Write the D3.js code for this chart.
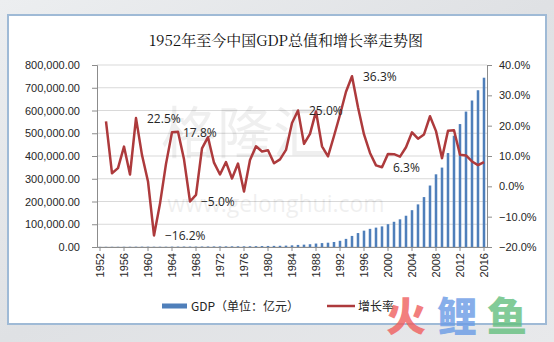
<html>
<head>
<meta charset="utf-8">
<title>1952年至今中国GDP总值和增长率走势图</title>
<style>
body { margin: 0; background: #e3e5e8; }
svg { display: block; font-family: "Open Sans", "Noto Sans CJK SC", sans-serif; }
.grid line { stroke: #d9d9d9; stroke-width: 1px; }
.axis path, .axis line { stroke: #8c8c8c; }
.axis text { fill: #262626; font-size: 11px; }
.gdp { fill: #4f7fba; }
.rate { fill: none; stroke: #ad3a3c; stroke-width: 2.5px; stroke-linejoin: round; }
.lbl { font-size: 12px; fill: #262626; }
</style>
</head>
<body>
<script src="https://cdn.jsdelivr.net/npm/d3@7"></script>
<script>
// years on the category axis
var years = d3.range(1952, 2017);

// GDP, 亿元
var gdp = [679.1, 824.4, 859.8, 911.6, 1030.7, 1071.4, 1312.3, 1447.5, 1470.1, 1232.3,
  1162.2, 1248.3, 1469.9, 1734.0, 1888.7, 1794.2, 1744.1, 1962.2, 2279.7, 2456.9,
  2552.4, 2756.2, 2827.7, 3039.5, 2988.6, 3250.0, 3678.7, 4100.5, 4587.6, 4935.8,
  5373.4, 6020.9, 7278.5, 9098.9, 10376.2, 12174.6, 15180.4, 17179.7, 18872.9, 22005.6,
  27194.5, 35673.2, 48637.5, 61339.9, 71813.6, 79715.0, 85195.5, 90564.4, 100280.1, 110863.1,
  121717.4, 137422.0, 161840.2, 187318.9, 219438.5, 270232.3, 319515.5, 349081.4, 413030.3, 489300.6,
  540367.4, 595244.4, 643974.0, 689052.1, 744127.2];

// growth rate (%), 1953 onward
var rateYears = d3.range(1953, 2017);
var rate = [21.4, 4.3, 6.0, 13.1, 3.9, 22.5, 10.3, 1.6, -16.2, -5.7,
  7.4, 17.8, 18.0, 8.9, -5.0, -2.8, 12.5, 16.2, 7.8, 3.9,
  8.0, 2.6, 7.5, -1.7, 8.7, 13.2, 11.5, 11.9, 7.6, 8.9,
  12.0, 20.9, 25.0, 14.0, 17.3, 24.7, 13.2, 9.9, 16.6, 23.6,
  31.2, 36.3, 26.1, 17.1, 11.0, 6.9, 6.3, 10.7, 10.6, 9.8,
  12.9, 17.8, 15.7, 17.1, 23.1, 18.2, 9.3, 18.3, 18.5, 10.4,
  10.2, 8.2, 7.0, 8.0];

// labelled points
var labelYears = [1958, 1961, 1964, 1967, 1985, 1994, 1999];

var leftTicks = d3.range(0, 800001, 100000);
var rightTicks = d3.range(-20, 41, 10);
var yearTicks = d3.range(1952, 2017, 4);

var W = 554, H = 342;
var m = {top: 65, right: 67, bottom: 95, left: 97};

var svg = d3.select("body").append("svg")
  .attr("width", W).attr("height", H);

// background
var defs = svg.append("defs");
var bg = defs.append("linearGradient").attr("id", "bg")
  .attr("x1", 0).attr("y1", 0).attr("x2", 1).attr("y2", 1);
bg.append("stop").attr("offset", 0).attr("stop-color", "#eceef0");
bg.append("stop").attr("offset", 0.5).attr("stop-color", "#dfe1e4");
bg.append("stop").attr("offset", 1).attr("stop-color", "#e8e9eb");
svg.append("rect").attr("width", W).attr("height", H).attr("fill", "url(#bg)");

// white panel
svg.append("rect")
  .attr("x", 8).attr("y", 15).attr("width", 538).attr("height", 309)
  .attr("fill", "#fff").attr("stroke", "#9fbad6").attr("stroke-width", 2);

var x = d3.scaleBand().domain(years).range([m.left, W - m.right]);
var yL = d3.scaleLinear().domain([0, 800000]).range([H - m.bottom, m.top]);
var yR = d3.scaleLinear().domain([-20, 40]).range([H - m.bottom, m.top]);
var cx = function(yr) { return x(yr) + x.bandwidth() / 2; };

// title
svg.append("text")
  .attr("x", 286).attr("y", 46)
  .attr("text-anchor", "middle")
  .style("font-family", "'Noto Serif CJK SC', 'Noto Sans CJK SC', serif")
  .style("font-size", "15px").style("fill", "#111")
  .text("1952年至今中国GDP总值和增长率走势图");

// gridlines
svg.append("g").attr("class", "grid")
  .selectAll("line").data(leftTicks).join("line")
  .attr("x1", m.left).attr("x2", W - m.right)
  .attr("y1", function(d) { return yL(d); })
  .attr("y2", function(d) { return yL(d); });

// watermark
svg.append("text")
  .attr("x", 245).attr("y", 153).attr("text-anchor", "middle")
  .style("font-family", "'Noto Sans CJK SC'").style("font-size", "56px")
  .style("fill", "#000").style("opacity", 0.06)
  .text("格隆汇");
svg.append("text")
  .attr("x", 276).attr("y", 212).attr("text-anchor", "middle")
  .style("font-family", "'Open Sans'").style("font-size", "23px")
  .style("fill", "#000").style("opacity", 0.06)
  .text("www.gelonghui.com");

// GDP bars
var bw = x.bandwidth() * 0.42;
svg.append("g").selectAll("rect").data(gdp).join("rect")
  .attr("class", "gdp")
  .attr("x", function(d, i) { return cx(years[i]) - bw / 2; })
  .attr("width", bw)
  .attr("y", function(d) { return yL(d); })
  .attr("height", function(d) { return yL(0) - yL(d); });

// axes
svg.append("g").attr("class", "axis")
  .attr("transform", "translate(" + m.left + ",0)")
  .call(d3.axisLeft(yL).tickValues(leftTicks).tickSize(5).tickPadding(12)
    .tickFormat(d3.format(",.2f")));

svg.append("g").attr("class", "axis")
  .attr("transform", "translate(" + (W - m.right) + ",0)")
  .call(d3.axisRight(yR).tickValues(rightTicks).tickSize(5).tickPadding(7)
    .tickFormat(function(d) { return d3.format(".1f")(d) + "%"; }));

var xa = svg.append("g").attr("class", "axis")
  .attr("transform", "translate(0," + yL(0) + ")")
  .call(d3.axisBottom(x).tickValues(yearTicks).tickSize(4).tickSizeOuter(0));
xa.selectAll("text")
  .attr("transform", "rotate(-90)")
  .attr("x", -6).attr("y", 0).attr("dy", "0.35em")
  .style("text-anchor", "end");

// growth rate line
var line = d3.line()
  .x(function(d, i) { return cx(rateYears[i]); })
  .y(function(d) { return yR(d); });
svg.append("path").datum(rate).attr("class", "rate").attr("d", line);

// data labels
svg.append("g").selectAll("text").data(labelYears).join("text")
  .attr("class", "lbl")
  .attr("x", function(yr) { return cx(yr) + 11; })
  .attr("y", function(yr) { return yR(rate[rateYears.indexOf(yr)]); })
  .attr("dy", "0.38em")
  .text(function(yr) { return d3.format(".1f")(rate[rateYears.indexOf(yr)]) + "%"; });

// legend
var lg = svg.append("g").attr("transform", "translate(0,306)");
lg.append("rect").attr("x", 162).attr("y", -2.5).attr("width", 25).attr("height", 5)
  .attr("class", "gdp");
lg.append("text").attr("x", 191).attr("dy", "0.38em")
  .style("font-family", "'Noto Sans CJK SC'").style("font-size", "12px").style("fill", "#262626")
  .text("GDP（单位：亿元）");
lg.append("line").attr("x1", 327).attr("x2", 355)
  .attr("stroke", "#ad3a3c").attr("stroke-width", 2.5);
lg.append("text").attr("x", 358).attr("dy", "0.38em")
  .style("font-family", "'Noto Sans CJK SC'").style("font-size", "12px").style("fill", "#262626")
  .text("增长率");

// corner logo
var logo = svg.append("g").style("font-family", "'Noto Sans CJK SC'")
  .style("font-size", "40px").style("font-weight", 900).style("opacity", 0.8);
logo.append("text").attr("x", 386).attr("y", 331).style("fill", "#f0605e").text("火");
logo.append("text").attr("x", 437).attr("y", 331).style("fill", "#6a9be6").text("鲤");
logo.append("text").attr("x", 487).attr("y", 331).style("fill", "#64bf7f").text("鱼");
</script>
</body>
</html>
